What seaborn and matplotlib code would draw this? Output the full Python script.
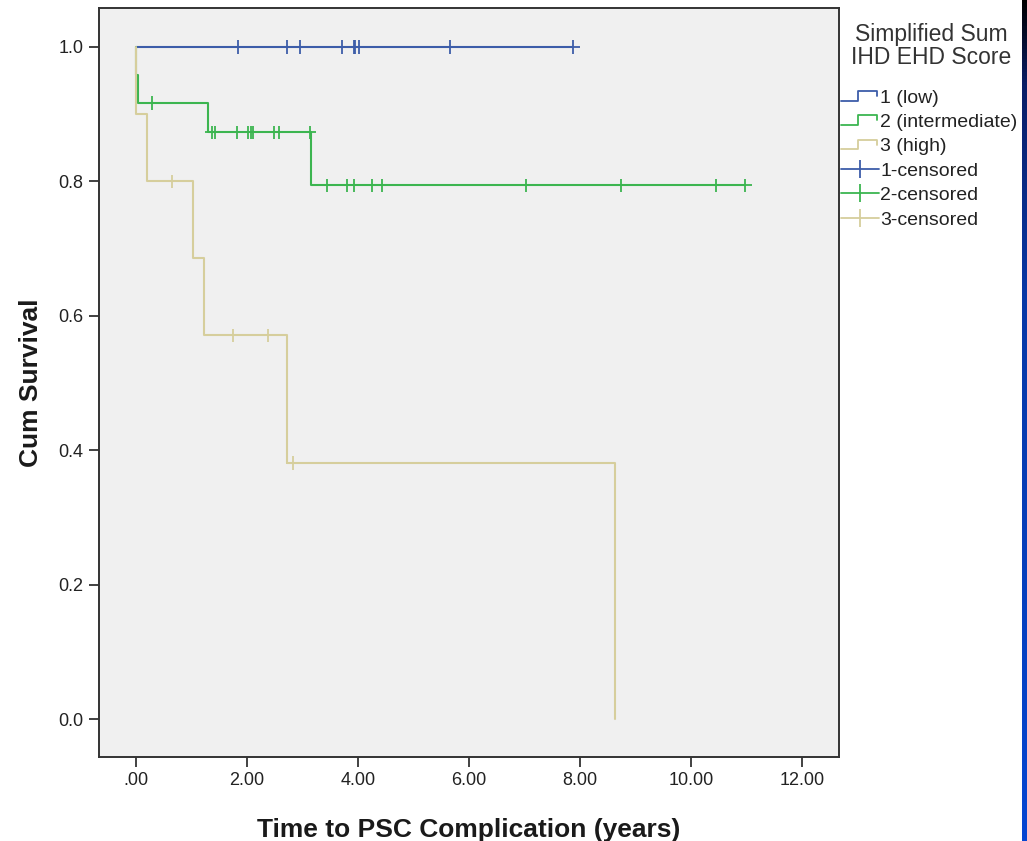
import numpy as np
import pandas as pd
import matplotlib
matplotlib.use("Agg")
import matplotlib.pyplot as plt
import seaborn as sns
from matplotlib.lines import Line2D
from matplotlib.legend_handler import HandlerBase
from matplotlib.colors import LinearSegmentedColormap

# ---------------- data ----------------
groups = ["1 (low)", "2 (intermediate)", "3 (high)"]
colors = ["#3d5da9", "#3cb550", "#d6ce9c"]

low_step_t = [0.0, 7.87]
low_step_s = [1.0, 1.0]
low_cens_t = [1.83, 2.72, 2.95, 3.71, 3.92, 3.95, 4.02, 5.66, 7.87]

mid_step_t = [0.0, 0.0, 0.03, 1.29, 3.16, 10.97]
mid_step_s = [1.0, 0.958, 0.917, 0.873, 0.794, 0.794]
mid_cens_t = [0.29, 1.37, 1.43, 1.82, 2.01, 2.07, 2.10, 2.49, 2.58, 3.13,
              3.45, 3.81, 3.93, 4.26, 4.44, 7.03, 8.73, 10.45, 10.97]

high_step_t = [0.0, 0.0, 0.19, 1.02, 1.22, 2.72, 8.63]
high_step_s = [1.0, 0.9, 0.8, 0.686, 0.571, 0.381, 0.0]
high_cens_t = [0.65, 1.75, 2.37, 2.82]

x_ticks = [0, 2, 4, 6, 8, 10, 12]
x_tick_labels = [".00", "2.00", "4.00", "6.00", "8.00", "10.00", "12.00"]
y_ticks = [0.0, 0.2, 0.4, 0.6, 0.8, 1.0]
y_tick_labels = ["0.0", "0.2", "0.4", "0.6", "0.8", "1.0"]

legend_title = ["Simplified Sum", "IHD EHD Score"]
censor_labels = ["1-censored", "2-censored", "3-censored"]

steps = [(low_step_t, low_step_s), (mid_step_t, mid_step_s), (high_step_t, high_step_s)]
cens = [low_cens_t, mid_cens_t, high_cens_t]

rows = []
for g, (t, s) in zip(groups, steps):
    for i, (ti, si) in enumerate(zip(t, s)):
        rows.append({"group": g, "time": ti, "surv": si, "order": i})
step_df = pd.DataFrame(rows)

crow = []
for g, (t, s), ct in zip(groups, steps, cens):
    t = np.asarray(t); s = np.asarray(s)
    for c in ct:
        idx = np.searchsorted(t, c, side="right") - 1
        crow.append({"group": g, "time": c, "surv": s[idx]})
cens_df = pd.DataFrame(crow)

# ---------------- plot ----------------
sns.set_style("white")
plt.rcParams["font.family"] = ["Liberation Sans", "DejaVu Sans"]

fig = plt.figure(figsize=(10.27, 8.41), dpi=100)
ax = fig.add_axes([99 / 1027, 1 - 757 / 841, (839 - 99) / 1027, (757 - 8) / 841])
ax.set_facecolor("#f0f0f0")

palette = dict(zip(groups, colors))
sns.lineplot(data=step_df, x="time", y="surv", hue="group", hue_order=groups,
             palette=palette, estimator=None, sort=False, units="group",
             drawstyle="steps-post", linewidth=1.5, legend=False, ax=ax)
sns.scatterplot(data=cens_df, x="time", y="surv", hue="group", hue_order=groups,
                palette=palette, marker="+", s=95, linewidth=1.3, legend=False,
                ax=ax, zorder=3)

ax.set_xlim((99 - 136) / 55.5, (839 - 136) / 55.5)
ax.set_ylim((719 - 757) / 672, (719 - 8) / 672)
ax.set_xticks(x_ticks)
ax.set_xticklabels(x_tick_labels)
ax.set_yticks(y_ticks)
ax.set_yticklabels(y_tick_labels)
ax.tick_params(axis="both", direction="out", length=7, width=1.3, color="#333333",
               labelsize=13, labelcolor="#222222", pad=4, bottom=True, left=True)
for sp in ax.spines.values():
    sp.set_color("#333333")
    sp.set_linewidth(1.4)

ax.set_xlabel("Time to PSC Complication (years)", fontsize=19, fontweight="bold",
              labelpad=21, color="#1a1a1a")
ax.set_ylabel("Cum Survival", fontsize=19, fontweight="bold", labelpad=11,
              color="#1a1a1a")


class StepHandler(HandlerBase):
    def create_artists(self, legend, orig_handle, xdescent, ydescent, width,
                       height, fontsize, trans):
        x0 = -xdescent
        y0 = -ydescent
        xs = [x0, x0 + 0.45 * width, x0 + 0.45 * width, x0 + 0.95 * width,
              x0 + 0.95 * width]
        ys = [y0 + 0.15 * height, y0 + 0.15 * height, y0 + 0.85 * height,
              y0 + 0.85 * height, y0 + 0.5 * height]
        ln = Line2D(xs, ys, color=orig_handle.get_color(), linewidth=1.3)
        ln.set_transform(trans)
        return [ln]


step_handles = [Line2D([], [], color=c) for c in colors]
cens_handles = [Line2D([], [], color=c, marker="|", markersize=13,
                       markeredgewidth=1.3, linewidth=1.3) for c in colors]
handles = step_handles + cens_handles
labels = groups + censor_labels
hmap = {h: StepHandler() for h in step_handles}

fig.text(931 / 1027, 1 - 35 / 841, legend_title[0], ha="center", va="center",
         fontsize=16.5, color="#333333")
fig.text(931 / 1027, 1 - 58 / 841, legend_title[1], ha="center", va="center",
         fontsize=16.5, color="#333333")

leg = fig.legend(handles, labels, handler_map=hmap,
                 loc="upper left", bbox_to_anchor=(841 / 1027, 1 - 89 / 841),
                 frameon=False, fontsize=14, handlelength=1.95,
                 handletextpad=0.08, labelspacing=0.35,
                 borderaxespad=0, borderpad=0, numpoints=1)
for t in leg.get_texts():
    t.set_color("#222222")

# right-edge blue stripe
sax = fig.add_axes([1022 / 1027, 0, 5 / 1027, 1])
cmap = LinearSegmentedColormap.from_list(
    "stripe", [(0.0, "#000000"), (0.1, "#0a1d66"), (0.35, "#0838a6"), (1.0, "#0646d2")])
grad = np.linspace(0, 1, 256).reshape(-1, 1)
sax.imshow(grad, aspect="auto", cmap=cmap, extent=[0, 1, 1, 0])
sax.set_axis_off()

fig.savefig("out.png", dpi=100)
